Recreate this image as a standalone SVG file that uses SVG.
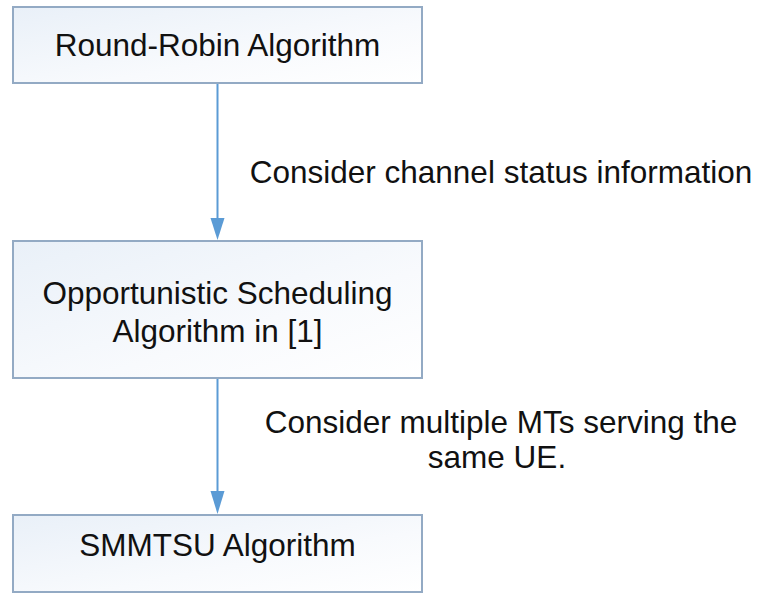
<svg xmlns="http://www.w3.org/2000/svg" width="760" height="594" viewBox="0 0 760 594">
  <defs>
    <linearGradient id="boxFill" x1="0" y1="0" x2="1" y2="1">
      <stop offset="0" stop-color="#e9f0f8"/>
      <stop offset="0.6" stop-color="#f8fafd"/>
      <stop offset="1" stop-color="#ffffff"/>
    </linearGradient>
  </defs>
  <style>
    .box { fill: url(#boxFill); stroke: #93aac4; stroke-width: 2; }
    .label { font-family: "Liberation Sans", Arial, sans-serif; font-size: 31.5px; fill: #111111; text-anchor: middle; }
    .note { font-family: "Liberation Sans", Arial, sans-serif; font-size: 31.5px; fill: #111111; text-anchor: middle; }
    .edge { stroke: #5b9bd5; stroke-width: 2; fill: none; }
    .head { fill: #5b9bd5; }
  </style>
  <rect width="760" height="594" fill="#ffffff"/>

  <g id="round-robin">
    <rect class="box" x="13" y="7" width="409" height="76"/>
    <text class="label" x="217.5" y="56">Round-Robin Algorithm</text>
  </g>

  <g id="opportunistic">
    <rect class="box" x="13" y="241" width="409" height="137"/>
    <text class="label" x="217.5" y="304">Opportunistic Scheduling</text>
    <text class="label" x="217.5" y="342">Algorithm in [1]</text>
  </g>

  <g id="smmtsu">
    <rect class="box" x="13" y="515" width="409" height="77"/>
    <text class="label" x="217.5" y="556">SMMTSU Algorithm</text>
  </g>

  <g id="connectors">
    <line class="edge" x1="217.5" y1="84" x2="217.5" y2="222"/>
    <path class="head" d="M210.5,218 L224.5,218 L217.5,240 Z"/>
    <text class="note" x="501" y="183">Consider channel status information</text>

    <line class="edge" x1="217.5" y1="379" x2="217.5" y2="495"/>
    <path class="head" d="M210.5,491 L224.5,491 L217.5,514 Z"/>
    <text class="note" x="501" y="433">Consider multiple MTs serving the</text>
    <text class="note" x="497" y="468">same UE.</text>
  </g>
</svg>
